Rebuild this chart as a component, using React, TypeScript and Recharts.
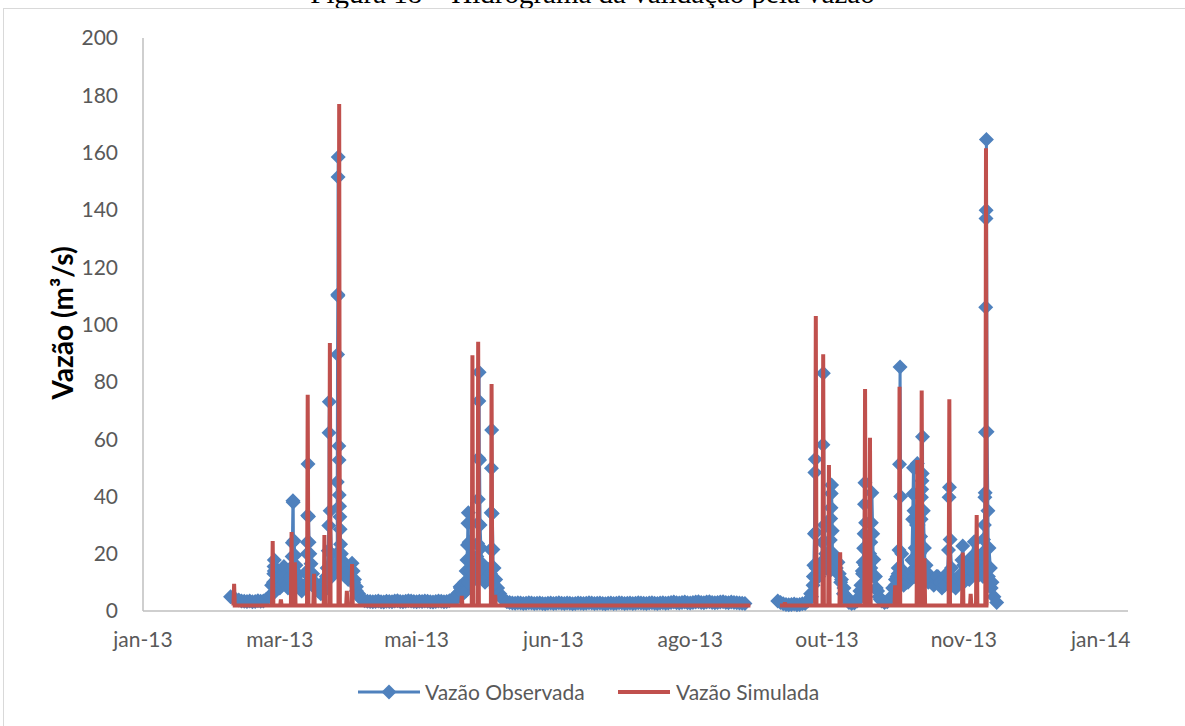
import React from 'react';
import { LineChart, Line, XAxis, YAxis } from 'recharts';

// x axis in days from the first tick (jan-13), one major tick every 50 days
const xTickDays = [0, 50, 100, 150, 200, 250, 300, 350];
const xTickLabels = ['jan-13', 'mar-13', 'mai-13', 'jun-13', 'ago-13', 'out-13', 'nov-13', 'jan-14'];
const yTicks = [0, 20, 40, 60, 80, 100, 120, 140, 160, 180, 200];

// observed flow, daily background readings (m3/s)
const obsDaily1Start = 32;
const obsDaily1 = [
  5, 4.5, 4, 3.8, 3.5, 3.4, 3.3, 3.5, 3.2, 3.3,
  3.6, 3.4, 3.5, 4, 5, 9, 14, 11, 8, 13,
  10, 8, 12, 16, 12, 9, 7, 9, 14, 12,
  10, 8, 7, 6, 8, 12, 15, 12, 14, 16,
  15, 13, 12, 11, 14, 10, 7, 5, 4, 3.6,
  3.4, 3.3, 3.2, 3.3, 3.5, 3.2, 3.1, 3.4, 3.3, 3.2,
  3.5, 3.6, 3.3, 3.2, 3.4, 3.6, 3.5, 3.3, 3.2, 3.4,
  3.3, 3.5, 3.4, 3.2, 3.1, 3.3, 3.5, 3.4, 3.2, 3.3,
  3.6, 4.0, 4.5, 6, 8, 6, 7, 10, 14, 12,
  11, 14, 12, 10, 11, 13, 11, 8, 6, 4.5,
  3.8, 3.2, 3.0, 2.8, 2.7, 2.9, 2.8, 2.6, 2.7, 2.9,
  2.8, 2.6, 2.7, 2.8, 2.6, 2.5, 2.7, 2.8, 2.6, 2.7,
  2.9, 2.7, 2.6, 2.8, 2.7, 2.5, 2.6, 2.8, 2.7, 2.6,
  2.7, 2.9, 2.8, 2.6, 2.7, 2.8, 2.6, 2.5, 2.7, 2.8,
  2.6, 2.7, 2.9, 2.8, 2.6, 2.7, 2.8, 2.6, 2.7, 2.9,
  2.8, 2.7, 2.6, 2.8, 2.9, 2.7, 2.6, 2.8, 2.9, 2.7,
  2.8, 3.0, 3.1, 2.9, 2.8, 3.0, 3.1, 2.9, 2.8, 3.0,
  3.1, 3.2, 3.0, 2.9, 3.1, 3.2, 3.0, 2.9, 3.0, 3.1,
  3.2, 3.0, 2.9, 3.1, 3.0, 2.9, 2.8, 2.7, 2.6,
];
const obsDaily2Start = 232;
const obsDaily2 = [
  3.5, 3, 2.5, 2.3, 2.2, 2.3, 2.4, 2.2, 2.3, 2.5,
  2.6, 3.5, 6, 12, 15, 12, 14, 17, 15, 14,
  17, 15, 13, 10, 6, 4, 3, 2.6, 2.8, 3.5,
  7, 13, 16, 14, 15, 12, 8, 5, 3.5, 3,
  3.2, 4.5, 8, 11, 13, 11, 9, 10, 12, 14,
  12, 14, 15, 13, 12, 10, 11, 9, 12, 10,
  8, 10, 12, 11, 9, 8, 11, 13, 10, 12,
  11, 14, 13, 12, 14, 12, 15, 12, 8, 5,
  3,
];
const obsGapDay = 226;

// observed flood events, sub-daily readings [day, m3/s]
const obsEvents: [number, number][] = [
  [47.5, 6], [47.7, 10], [47.8, 13], [47.9, 15.5], [48.0, 17.8], [48.3, 14], [48.7, 11], [49.3, 8],
  [50.8, 9], [51.2, 12.5], [51.5, 15.5], [51.9, 12], [52.5, 9],
  [53.9, 8], [54.1, 11], [54.3, 14.5], [54.5, 19], [54.6, 23.8], [54.8, 38.5], [54.9, 38], [55.2, 24.5],
  [55.5, 19.5], [55.9, 16], [56.4, 13], [57.0, 10],
  [59.5, 8], [59.8, 13], [60.0, 20], [60.1, 24], [60.2, 33.3], [60.3, 51.3], [60.5, 33], [60.7, 24],
  [61.0, 20], [61.4, 16.5], [62.0, 13], [62.8, 10], [63.8, 8],
  [66.2, 7], [66.8, 11], [67.3, 15], [67.7, 21], [67.9, 29.8], [68.0, 62.2], [68.1, 73], [68.4, 35],
  [68.9, 20], [69.6, 16], [70.3, 14], [70.8, 20], [71.0, 45], [71.1, 89.5], [71.2, 110.5], [71.25, 110],
  [71.3, 151.5], [71.35, 158.5], [71.6, 57.6], [71.65, 52.7], [71.7, 40.5], [71.85, 36.6], [71.95, 32.9],
  [72.05, 28.5], [72.2, 23.3], [72.5, 20], [72.9, 17.5], [73.4, 15], [74.0, 13], [74.8, 12], [75.6, 13.5],
  [76.4, 16.7], [76.8, 14], [77.3, 11], [78.0, 8.5], [78.8, 6],
  [114.8, 4.5], [115.5, 6.5], [115.9, 8.5], [116.4, 6.5], [117.0, 7], [117.6, 10], [118.1, 14], [118.4, 17.8],
  [118.6, 23], [118.75, 30.6], [118.9, 34.3], [119.2, 24], [119.6, 18], [120.0, 14], [120.5, 12], [121.0, 13],
  [121.6, 16], [122.0, 19], [122.3, 23.6], [122.45, 30.6], [122.55, 39], [122.65, 53.3], [122.75, 73.3],
  [122.85, 83.3], [123.0, 52.7], [123.2, 30], [123.5, 22], [124.0, 16.5], [124.7, 13], [125.5, 11.5],
  [126.3, 12], [126.9, 15], [127.1, 21.5], [127.25, 34.3], [127.35, 49.8], [127.45, 63.2], [127.65, 34],
  [127.9, 21.5], [128.3, 15], [128.9, 11], [129.6, 8], [130.4, 6], [131.3, 4.5],
  [244.3, 5], [244.9, 9], [245.2, 16], [245.4, 27], [245.55, 48.3], [245.7, 53], [245.9, 27.5], [246.2, 16],
  [246.7, 12], [247.3, 13], [247.9, 17], [248.3, 24], [248.5, 58], [248.65, 83], [249.0, 30], [249.5, 20],
  [250.0, 17.5], [250.6, 20], [251.2, 24.8], [251.35, 32.3], [251.45, 36], [251.55, 41], [251.65, 44],
  [251.9, 28], [252.3, 20], [252.8, 17], [253.4, 15], [254.0, 17], [254.5, 13], [255.3, 11], [256.2, 8], [257.2, 5],
  [261.8, 5], [262.4, 9], [262.9, 14], [263.2, 17], [263.4, 21.9], [263.55, 27], [263.7, 37.3], [263.85, 44.8],
  [264.1, 30.8], [264.5, 21], [265.0, 17], [265.6, 20], [266.0, 24], [266.2, 30.8], [266.4, 41.3], [266.7, 27],
  [267.1, 18], [267.7, 12], [268.5, 7], [269.5, 4],
  [274.3, 5], [275.0, 9], [275.6, 12], [276.0, 15], [276.3, 21.3], [276.5, 51.2], [276.7, 85.2], [276.9, 40],
  [277.3, 20], [277.9, 14], [278.6, 11],
  [279.6, 10], [280.4, 13], [281.0, 17.8], [281.3, 32], [281.45, 40.8], [281.6, 50], [281.8, 35], [282.2, 22],
  [282.7, 30], [283.0, 51.5], [283.3, 30], [283.8, 20], [284.2, 26], [284.4, 32], [284.5, 39.7], [284.6, 42.5],
  [284.7, 45.5], [284.8, 48], [284.9, 60.8], [285.2, 35], [285.6, 22], [286.2, 16], [287.0, 13], [288.0, 11],
  [290.5, 12], [291.5, 10], [293.0, 9], [294.0, 13.3], [294.4, 21.3], [294.6, 39.7], [294.75, 43.2], [295.0, 25],
  [295.5, 15], [296.3, 11],
  [298.5, 12], [299.3, 17.8], [299.6, 22.7], [299.9, 16], [300.6, 12], [301.5, 14], [302.3, 17], [303.0, 19],
  [303.8, 24.2], [304.3, 20], [305.0, 15], [305.8, 16], [306.6, 20],
  [307.2, 25], [307.5, 30], [307.7, 39.7], [307.8, 41.3], [307.9, 62.4], [308.0, 106], [308.1, 137],
  [308.15, 139.9], [308.25, 164.6], [308.5, 62.6], [308.8, 35], [309.2, 22], [309.7, 15], [310.3, 10],
];

// simulated flow: base level, active periods and peaks [day, m3/s]
const simBase = 1.9;
const simPeriods: [number, number][] = [[32.8, 222], [232.8, 309]];
const simPeaks: [number, number][] = [
  [33.3, 9.5], [47.4, 24.4], [50.4, 4], [54.3, 27.6], [55.5, 17], [60.2, 75.5], [62.5, 13], [66.3, 26.5],
  [68.3, 93.5], [71.7, 177], [74.5, 7], [76.4, 16.4],
  [116.5, 5.3], [120.4, 89.3], [122.5, 94], [127.4, 79.2], [128.7, 5.6],
  [234.6, 3], [245.9, 103], [248.6, 89.6], [250.7, 51], [254.8, 20.5], [263.9, 77.5], [265.7, 60.5],
  [274.9, 9], [276.5, 78.3], [283.0, 52.7], [284.6, 77], [285.6, 18.4], [294.7, 73.9], [299.6, 20.4],
  [302.5, 6], [304.7, 33.5], [308.1, 161.5],
];

type Pt = { day: number; v: number | null };

const observed: Pt[] = [
  ...obsDaily1.map((v, i) => ({ day: obsDaily1Start + i, v })),
  { day: obsGapDay, v: null },
  ...obsDaily2.map((v, i) => ({ day: obsDaily2Start + i, v })),
  ...obsEvents.map(([day, v]) => ({ day, v })),
].sort((a, b) => a.day - b.day);

const simulated: Pt[] = [];
simPeriods.forEach(([from, to], k) => {
  if (k > 0) simulated.push({ day: (simPeriods[k - 1][1] + from) / 2, v: null });
  simulated.push({ day: from, v: simBase });
  simPeaks
    .filter(([d]) => d > from && d < to)
    .forEach(([d, peak]) => {
      simulated.push({ day: d - 0.25, v: simBase }, { day: d, v: peak }, { day: d + 0.25, v: simBase });
    });
  simulated.push({ day: to, v: simBase });
});

const BLUE = '#4F81BD';
const RED = '#C0504D';
const TEXT = '#595959';
const AXIS = '#BFBFBF';
const FONT = 'Lato, "Open Sans", sans-serif';

const W = 1185;
const H = 726;
const MARGIN = { top: 38, right: 57, bottom: 85, left: 83 };

const Diamond = (props: any) => {
  const { cx, cy, index, value } = props;
  if (cx == null || cy == null || value == null || isNaN(cy)) return <g key={`o${index}`} />;
  const r = 7.5;
  return (
    <path
      key={`o${index}`}
      d={`M${cx},${cy - r}L${cx + r},${cy}L${cx},${cy + r}L${cx - r},${cy}Z`}
      fill={BLUE}
    />
  );
};

const layer: React.CSSProperties = { position: 'absolute', left: 0, top: 0 };

export default function App() {
  return (
    <div style={{ position: 'fixed', inset: 0, background: '#fff', overflow: 'hidden' }}>
      <div
        style={{
          position: 'absolute', left: 0, width: W, top: -21, textAlign: 'center',
          fontFamily: '"Liberation Serif", "Times New Roman", serif', fontSize: 29, lineHeight: '29px', color: '#000',
        }}
      >
        Figura 18 – Hidrograma da validação pela vazão
      </div>
      <div style={{ position: 'absolute', left: 3, top: 8, width: 1200, height: 740, border: '1px solid #D9D9D9' }} />

      {/* axes + observed series */}
      <div style={layer}>
        <LineChart width={W} height={H} margin={MARGIN}>
          <XAxis
            type="number"
            dataKey="day"
            domain={[0, 360]}
            ticks={xTickDays}
            tickFormatter={(d: number) => xTickLabels[xTickDays.indexOf(d)] ?? ''}
            allowDataOverflow
            height={30}
            tickLine={false}
            tickSize={6}
            tickMargin={15}
            axisLine={{ stroke: AXIS, strokeWidth: 1.5 }}
            tick={{ fill: TEXT, fontSize: 21, fontFamily: FONT }}
          />
          <YAxis
            type="number"
            domain={[0, 200]}
            ticks={yTicks}
            width={60}
            tickLine={false}
            tickSize={6}
            tickMargin={19}
            axisLine={{ stroke: AXIS, strokeWidth: 1.5 }}
            tick={{ fill: TEXT, fontSize: 21, fontFamily: FONT }}
          />
          <Line
            data={observed}
            dataKey="v"
            type="linear"
            stroke={BLUE}
            strokeWidth={3}
            dot={Diamond}
            activeDot={false}
            connectNulls={false}
            isAnimationActive={false}
          />
        </LineChart>
      </div>

      {/* simulated series drawn over the observed markers, same scales */}
      <div style={layer}>
        <LineChart width={W} height={H} margin={MARGIN}>
          <XAxis type="number" dataKey="day" domain={[0, 360]} ticks={xTickDays} allowDataOverflow height={30} tick={false} axisLine={false} tickLine={false} />
          <YAxis type="number" domain={[0, 200]} ticks={yTicks} width={60} tick={false} axisLine={false} tickLine={false} />
          <Line
            data={simulated}
            dataKey="v"
            type="linear"
            stroke={RED}
            strokeWidth={4}
            dot={false}
            activeDot={false}
            connectNulls={false}
            isAnimationActive={false}
          />
        </LineChart>
      </div>

      <div
        style={{
          position: 'absolute', left: 62, top: 323, transform: 'translate(-50%, -50%) rotate(-90deg)',
          fontFamily: FONT, fontWeight: 700, fontSize: 28, color: '#000', whiteSpace: 'nowrap',
        }}
      >
        Vazão (m³/s)
      </div>

      <svg width={62} height={24} style={{ position: 'absolute', left: 358, top: 680 }}>
        <line x1={0} y1={12} x2={62} y2={12} stroke={BLUE} strokeWidth={3} />
        <path d="M31,4.5L38.5,12L31,19.5L23.5,12Z" fill={BLUE} />
      </svg>
      <div style={{ position: 'absolute', left: 425, top: 680, lineHeight: '24px', fontFamily: FONT, fontSize: 21, color: TEXT, whiteSpace: 'nowrap' }}>
        Vazão Observada
      </div>
      <svg width={52} height={24} style={{ position: 'absolute', left: 618, top: 680 }}>
        <line x1={0} y1={12} x2={52} y2={12} stroke={RED} strokeWidth={4} />
      </svg>
      <div style={{ position: 'absolute', left: 676, top: 680, lineHeight: '24px', fontFamily: FONT, fontSize: 21, color: TEXT, whiteSpace: 'nowrap' }}>
        Vazão Simulada
      </div>
    </div>
  );
}
